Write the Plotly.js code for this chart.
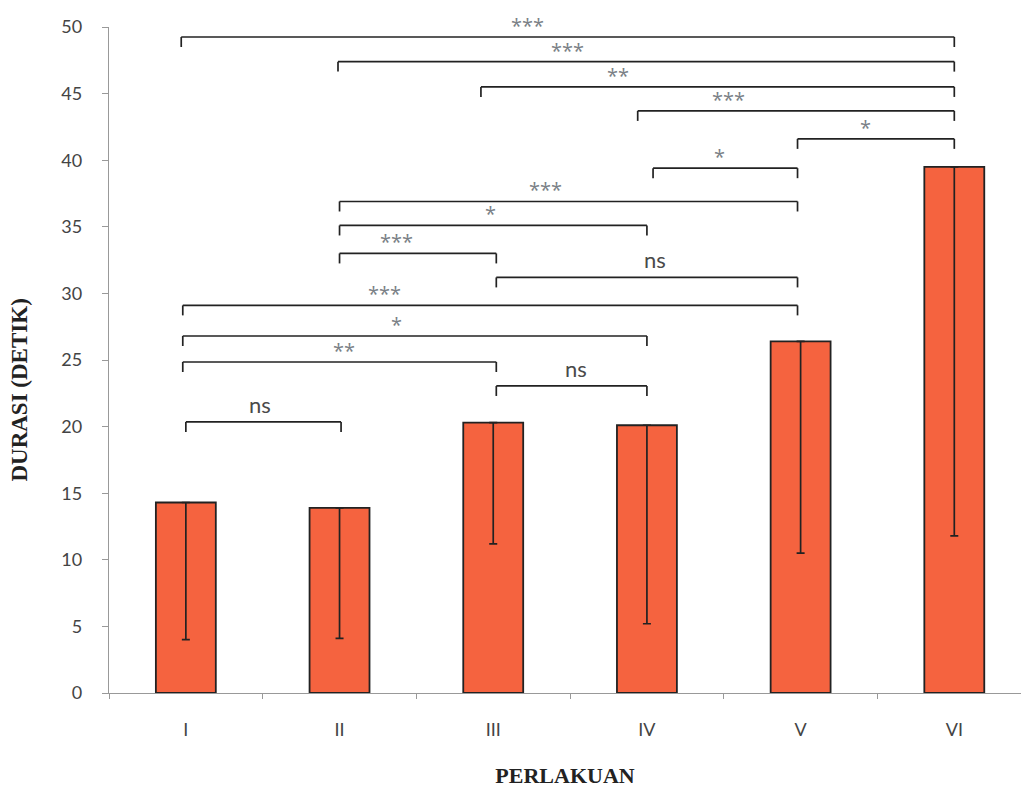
<!DOCTYPE html>
<html>
<head>
<meta charset="utf-8">
<script src="https://cdn.plot.ly/plotly-3.0.1.min.js"></script>
<style>html,body{margin:0;padding:0;background:#fff}#chart{width:1021px;height:796px}</style>
</head>
<body>
<div id="chart"></div>
<script>
// ---- data ----
var categories = ["I", "II", "III", "IV", "V", "VI"];
var meanDuration = [14.3, 13.9, 20.3, 20.1, 26.4, 39.5];
var lowerBound = [4.0, 4.1, 11.2, 5.2, 10.5, 11.8];
var yTicks = [0, 5, 10, 15, 20, 25, 30, 35, 40, 45, 50];

// significance brackets: from / to (category index), bracket level (seconds), label, label x (category index)
var bracketFrom  = [-0.03, 0.99, 1.92, 2.94, 3.98, 3.04, 1.00, 1.00, 1.00, 2.02, -0.02, -0.02, -0.02, 2.02, 0.00];
var bracketTo    = [5.00, 5.00, 5.00, 5.00, 5.00, 3.98, 3.98, 3.00, 2.02, 3.98, 3.98, 3.00, 2.02, 3.00, 1.01];
var bracketLevel = [49.25, 47.4, 45.5, 43.7, 41.6, 39.4, 36.9, 35.1, 33.0, 31.2, 29.1, 26.8, 24.85, 23.05, 20.35];
var bracketLabel = ["***", "***", "**", "***", "*", "*", "***", "*", "***", "ns", "***", "*", "**", "ns", "ns"];
var labelX       = [2.22, 2.48, 2.81, 3.53, 4.42, 3.47, 2.34, 1.98, 1.37, 3.05, 1.29, 1.37, 1.03, 2.54, 0.48];

var errMinus = meanDuration.map(function (v, i) { return v - lowerBound[i]; });
var errPlus = meanDuration.map(function () { return 0; });

var trace = {
  type: "bar",
  x: categories,
  y: meanDuration,
  width: 0.39,
  marker: { color: "#F5633F", line: { color: "#222", width: 1.8 } },
  error_y: {
    type: "data", symmetric: false, array: errPlus, arrayminus: errMinus,
    color: "#222", thickness: 1.7, width: 4
  },
  hoverinfo: "x+y"
};

var legLen = 0.75;
var shapes = [];
var annotations = [];
for (var i = 0; i < bracketLevel.length; i++) {
  var yv = bracketLevel[i];
  var ln = { color: "#222", width: 1.7 };
  shapes.push({ type: "line", xref: "x", yref: "y", x0: bracketFrom[i], x1: bracketTo[i], y0: yv, y1: yv, line: ln });
  shapes.push({ type: "line", xref: "x", yref: "y", x0: bracketFrom[i], x1: bracketFrom[i], y0: yv, y1: yv - legLen, line: ln });
  shapes.push({ type: "line", xref: "x", yref: "y", x0: bracketTo[i], x1: bracketTo[i], y0: yv, y1: yv - legLen, line: ln });
  var isNs = bracketLabel[i] === "ns";
  annotations.push({
    xref: "x", yref: "y", x: labelX[i], y: yv, yanchor: "bottom", xanchor: "center",
    text: bracketLabel[i], showarrow: false,
    yshift: isNs ? 2 : -4,
    font: isNs
      ? { family: "Lato, 'Open Sans', sans-serif", size: 22, color: "#4a4a4a" }
      : { family: "'Open Sans', sans-serif", size: 20, color: "#7a7f86" }
  });
}

// y-axis title (placed slightly below the plot middle, as in the reference)
annotations.push({
  xref: "paper", yref: "paper", x: -0.098, y: 0.455, xanchor: "center", yanchor: "middle",
  text: "DURASI (DETIK)", textangle: -90, showarrow: false,
  font: { family: "'Liberation Serif', 'Times New Roman', serif", size: 23, color: "#222", weight: "bold" }
});

var layout = {
  width: 1021, height: 796,
  margin: { l: 109, r: 0, t: 27, b: 103 },
  paper_bgcolor: "#fff", plot_bgcolor: "#fff",
  showlegend: false,
  xaxis: {
    type: "category",
    range: [-0.5, 5.434],
    showline: true, linecolor: "#999", linewidth: 1.2,
    ticks: "outside", tickson: "boundaries", ticklen: 5, tickcolor: "#999",
    tickfont: { family: "Lato, sans-serif", size: 18, color: "#444" },
    ticklabelstandoff: 20,
    showgrid: false, zeroline: false,
    title: { text: "PERLAKUAN", standoff: 28,
      font: { family: "'Liberation Serif', 'Times New Roman', serif", size: 22, color: "#222", weight: "bold" } }
  },
  yaxis: {
    range: [0, 50],
    tickvals: yTicks,
    showline: true, linecolor: "#999", linewidth: 1.2,
    ticks: "outside", ticklen: 6, tickcolor: "#999",
    tickfont: { family: "Lato, sans-serif", size: 18, color: "#444" },
    ticklabelstandoff: 16,
    showgrid: false, zeroline: false
  },
  shapes: shapes,
  annotations: annotations
};

Plotly.newPlot("chart", [trace], layout, { displayModeBar: false, staticPlot: true });
</script>
</body>
</html>
